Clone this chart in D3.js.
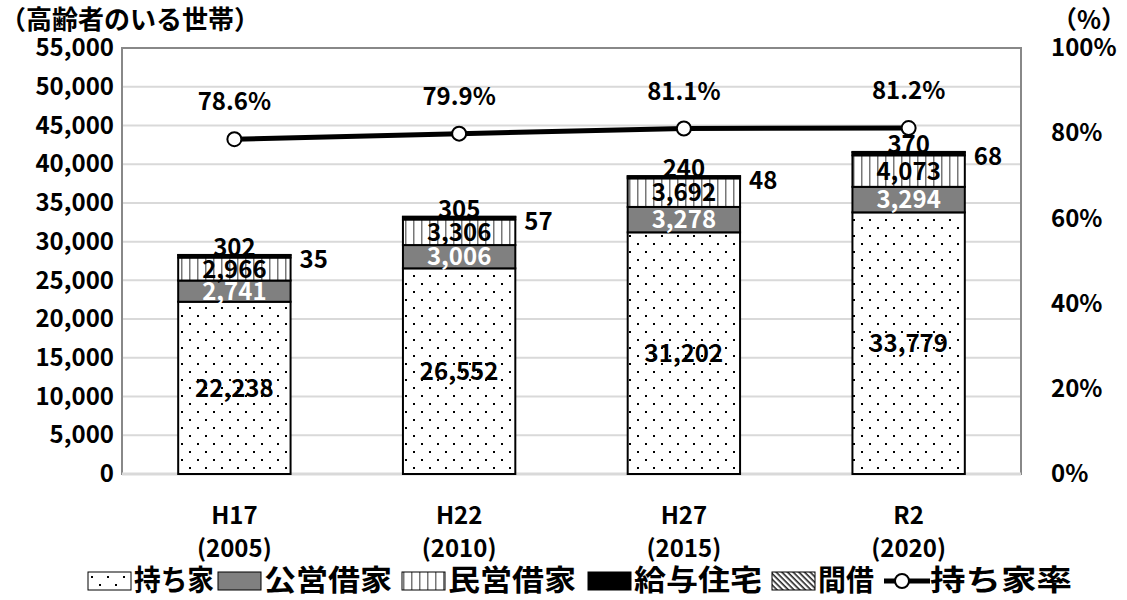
<!DOCTYPE html>
<html>
<head>
<meta charset="utf-8">
<script src="https://cdn.jsdelivr.net/npm/d3@7"></script>
<style>
  body { margin: 0; background: #fff; }
  text { font-family: "Noto Sans CJK JP", "Noto Sans", sans-serif; font-weight: bold; }
</style>
</head>
<body>
<div id="chart"></div>
<script>
var eras = ["H17", "H22", "H27", "R2"];
var years = ["(2005)", "(2010)", "(2015)", "(2020)"];
var mochiie = [22238, 26552, 31202, 33779];
var koei = [2741, 3006, 3278, 3294];
var minei = [2966, 3306, 3692, 4073];
var kyuyo = [302, 305, 240, 370];
var magari = [35, 57, 48, 68];
var rate = [78.6, 79.9, 81.1, 81.2];
var seriesNames = ["持ち家", "公営借家", "民営借家", "給与住宅", "間借"];
var leftTicks = d3.range(0, 55001, 5000);
var rightTicks = [0, 20, 40, 60, 80, 100];

var W = 1127, H = 600;
var m = [48, 106, 126, 122]; // top right bottom left
var pw = W - m[1] - m[3], ph = H - m[0] - m[2];
var fs = 24;

var svg = d3.select("#chart").append("svg")
  .attr("width", W).attr("height", H);

var defs = svg.append("defs");
// dotted pattern (持ち家)
var pDot = defs.append("pattern").attr("id", "pDot")
  .attr("patternUnits", "userSpaceOnUse").attr("width", 16).attr("height", 16);
pDot.append("rect").attr("width", 16).attr("height", 16).attr("fill", "#fff");
pDot.append("rect").attr("x", 3).attr("y", 3).attr("width", 2).attr("height", 2).attr("fill", "#000");
pDot.append("rect").attr("x", 11).attr("y", 11).attr("width", 2).attr("height", 2).attr("fill", "#000");
// vertical lines (民営借家)
var pVert = defs.append("pattern").attr("id", "pVert")
  .attr("patternUnits", "userSpaceOnUse").attr("width", 8).attr("height", 8);
pVert.append("rect").attr("width", 8).attr("height", 8).attr("fill", "#fff");
pVert.append("rect").attr("x", 3).attr("width", 1.5).attr("height", 8).attr("fill", "#777");
// diagonal hatch (間借)
var pDiag = defs.append("pattern").attr("id", "pDiag")
  .attr("patternUnits", "userSpaceOnUse").attr("width", 4).attr("height", 4)
  .attr("patternTransform", "rotate(45)");
pDiag.append("rect").attr("width", 4).attr("height", 4).attr("fill", "#fff");
pDiag.append("rect").attr("width", 4).attr("height", 1.6).attr("fill", "#222");

var fills = ["url(#pDot)", "#808080", "url(#pVert)", "#000", "url(#pDiag)"];

var g = svg.append("g").attr("transform", "translate(" + m[3] + "," + m[0] + ")");

var x = d3.scaleBand().domain(eras).range([0, pw]).paddingInner(0.5).paddingOuter(0.25);
var y = d3.scaleLinear().domain([0, 55000]).range([ph, 0]);
var y2 = d3.scaleLinear().domain([0, 100]).range([ph, 0]);

// gridlines
g.append("g").selectAll("line").data(leftTicks.slice(1)).enter().append("line")
  .attr("x1", 0).attr("x2", pw)
  .attr("y1", function(d) { return y(d); }).attr("y2", function(d) { return y(d); })
  .attr("stroke", "#d9d9d9").attr("stroke-width", 2);
// plot frame
g.append("rect").attr("width", pw).attr("height", ph)
  .attr("fill", "none").attr("stroke", "#888").attr("stroke-width", 2);
g.append("line").attr("x1", 0).attr("x2", pw).attr("y1", ph).attr("y2", ph)
  .attr("stroke", "#d9d9d9").attr("stroke-width", 3);

// left axis
var yAxis = d3.axisLeft(y).tickValues(leftTicks).tickSize(0).tickPadding(8)
  .tickFormat(d3.format(","));
var gy = g.append("g").call(yAxis);
gy.select(".domain").remove();
gy.selectAll("text").attr("font-size", fs).attr("fill", "#000");

// right axis
var yAxis2 = d3.axisRight(y2).tickValues(rightTicks).tickSize(0).tickPadding(30)
  .tickFormat(function(d) { return d + "%"; });
var gy2 = g.append("g").attr("transform", "translate(" + pw + ",0)").call(yAxis2);
gy2.select(".domain").remove();
gy2.selectAll("text").attr("font-size", fs).attr("fill", "#000");

// stacked bars
var table = eras.map(function(e, i) {
  return { era: e, 持ち家: mochiie[i], 公営借家: koei[i], 民営借家: minei[i], 給与住宅: kyuyo[i], 間借: magari[i] };
});
var stack = d3.stack().keys(seriesNames)(table);

g.append("g").selectAll("g").data(stack).enter().append("g")
  .attr("fill", function(d, i) { return fills[i]; })
  .selectAll("rect").data(function(d) { return d; }).enter().append("rect")
  .attr("x", function(d) { return x(d.data.era); })
  .attr("width", x.bandwidth())
  .attr("y", function(d) { return y(d[1]); })
  .attr("height", function(d) { return y(d[0]) - y(d[1]); })
  .attr("stroke", "#000").attr("stroke-width", 2);

// value labels inside
[0, 1, 2].forEach(function(si) {
  g.append("g").selectAll("text").data(stack[si]).enter().append("text")
    .attr("x", function(d) { return x(d.data.era) + x.bandwidth() / 2; })
    .attr("y", function(d) { return (y(d[0]) + y(d[1])) / 2; })
    .attr("dy", "0.36em")
    .attr("text-anchor", "middle")
    .attr("font-size", fs)
    .attr("fill", si === 1 ? "#fff" : "#000")
    .text(function(d) { return d3.format(",")(d[1] - d[0]); });
});
// 給与住宅 above the bar
g.append("g").selectAll("text").data(stack[3]).enter().append("text")
  .attr("x", function(d) { return x(d.data.era) + x.bandwidth() / 2; })
  .attr("y", function(d) { return y(d[1]) + 1; })
  .attr("text-anchor", "middle")
  .attr("font-size", fs).attr("fill", "#000")
  .text(function(d) { return d3.format(",")(d[1] - d[0]); });
// 間借 right of the bar
g.append("g").selectAll("text").data(stack[4]).enter().append("text")
  .attr("x", function(d) { return x(d.data.era) + x.bandwidth() + 9; })
  .attr("y", function(d) { return y(d[1]) + 13; })
  .attr("font-size", fs).attr("fill", "#000")
  .text(function(d) { return d3.format(",")(d[1] - d[0]); });

// line (持ち家率)
var cx = function(d, i) { return x(eras[i]) + x.bandwidth() / 2; };
var line = d3.line().x(function(d, i) { return cx(d, i); }).y(function(d) { return y2(d); });
g.append("path").datum(rate).attr("d", line)
  .attr("fill", "none").attr("stroke", "#000").attr("stroke-width", 5);
g.append("g").selectAll("circle").data(rate).enter().append("circle")
  .attr("cx", cx).attr("cy", function(d) { return y2(d); }).attr("r", 7)
  .attr("fill", "#fff").attr("stroke", "#000").attr("stroke-width", 2);
g.append("g").selectAll("text").data(rate).enter().append("text")
  .attr("x", cx).attr("y", function(d) { return y2(d) - 29; })
  .attr("text-anchor", "middle").attr("font-size", fs).attr("fill", "#000")
  .text(function(d) { return d.toFixed(1) + "%"; });

// x labels
var gx = g.append("g");
eras.forEach(function(e, i) {
  var xc = x(e) + x.bandwidth() / 2;
  gx.append("text").attr("x", xc).attr("y", ph + 50).attr("text-anchor", "middle")
    .attr("font-size", fs).text(e);
  gx.append("text").attr("x", xc).attr("y", ph + 83).attr("text-anchor", "middle")
    .attr("font-size", fs).text(years[i]);
});

// axis titles
svg.append("text").attr("x", 0).attr("y", 29).attr("font-size", 26).text("（高齢者のいる世帯）");
svg.append("text").attr("x", 1126).attr("y", 29).attr("text-anchor", "end")
  .attr("font-size", 25).text("（%）");

// legend
var legend = svg.append("g").attr("transform", "translate(0,581)");
var legItems = [
  { name: "持ち家", x: 88, w: 80, type: "bar", fill: fills[0] },
  { name: "公営借家", x: 218, w: 128, type: "bar", fill: fills[1] },
  { name: "民営借家", x: 402, w: 128, type: "bar", fill: fills[2] },
  { name: "給与住宅", x: 588, w: 128, type: "bar", fill: fills[3] },
  { name: "間借", x: 772, w: 56, type: "bar", fill: fills[4] },
  { name: "持ち家率", x: 884, w: 142, type: "line" }
];
legItems.forEach(function(d) {
  if (d.type === "bar") {
    legend.append("rect").attr("x", d.x).attr("y", -9).attr("width", 43).attr("height", 18)
      .attr("fill", d.fill).attr("stroke", "#000").attr("stroke-width", 1);
  } else {
    legend.append("line").attr("x1", d.x).attr("x2", d.x + 46).attr("y1", 0).attr("y2", 0)
      .attr("stroke", "#000").attr("stroke-width", 5);
    legend.append("circle").attr("cx", d.x + 18).attr("cy", 0).attr("r", 7)
      .attr("fill", "#fff").attr("stroke", "#000").attr("stroke-width", 2);
  }
  legend.append("text").attr("x", d.x + 46).attr("y", 0).attr("dy", "0.36em")
    .attr("font-size", 29)
    .attr("textLength", d.w).attr("lengthAdjust", "spacingAndGlyphs")
    .text(d.name);
});
</script>
</body>
</html>
